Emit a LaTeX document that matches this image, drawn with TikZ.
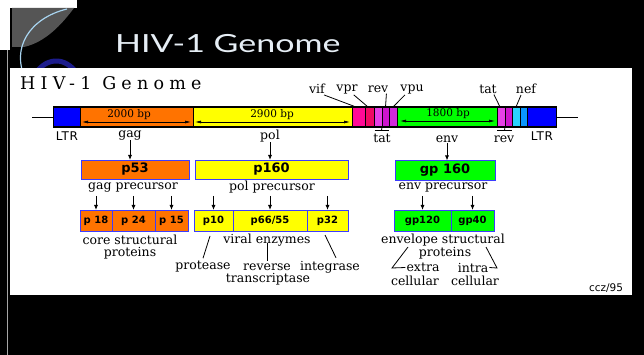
\documentclass[tikz,border=0pt]{standalone}
\usepackage{fontspec}
\setmainfont{DejaVu Serif}
\newfontfamily\titlefont[FakeStretch=1.36]{Lato}
\newfontfamily\headfont[LetterSpace=30]{DejaVu Serif}
\newfontfamily\boxfont{DejaVu Sans}
\newfontfamily\ltrfont[LetterSpace=6]{DejaVu Sans}
\usetikzlibrary{arrows.meta}
\definecolor{ora}{HTML}{FF7300}
\definecolor{yel}{HTML}{FFFF00}
\definecolor{grn}{HTML}{00FF00}
\definecolor{ltrc}{HTML}{0000FF}
\definecolor{vifc}{HTML}{FF0A96}
\definecolor{vprc}{HTML}{F00A64}
\definecolor{tatc}{HTML}{E640E6}
\definecolor{revc}{HTML}{CC14CC}
\definecolor{vpuc}{HTML}{D22ADC}
\definecolor{nefa}{HTML}{28D2FF}
\definecolor{nefb}{HTML}{0A96FF}
\definecolor{boxb}{HTML}{3C3CFF}
\definecolor{titlec}{HTML}{E6EEF5}
\definecolor{decog}{HTML}{555555}
\definecolor{decol}{HTML}{A8D4F0}
\definecolor{decon}{HTML}{1C1C8C}
\tikzset{
  seg/.style={draw=black, line width=0.5pt, minimum height=20pt, inner sep=0pt, outer sep=0pt},
  pbox/.style={draw=boxb, line width=0.8pt, inner sep=0pt, outer sep=0pt, font=\boxfont\bfseries\fontsize{13}{13}\selectfont},
  sbox/.style={draw=boxb, line width=0.8pt, inner sep=0pt, outer sep=0pt, minimum height=21pt, font=\boxfont\bfseries\fontsize{10}{10}\selectfont},
  lab/.style={inner sep=0pt, font=\fontsize{12.5}{13}\selectfont},
  bplab/.style={inner sep=0pt, font=\fontsize{10.5}{11}\selectfont},
  sans/.style={inner sep=0pt, font=\ltrfont\fontsize{12}{12}\selectfont},
  arr/.style={-{Latex[length=5pt,width=4pt]}, line width=0.8pt},
  dbl/.style={{Latex[length=6pt,width=3pt]}-{Latex[length=6pt,width=3pt]}, line width=0.7pt},
  ln/.style={line width=0.8pt}
}
\begin{document}
\begin{tikzpicture}[x=1pt,y=-1pt]
\useasboundingbox (0,0) rectangle (644,355);
\fill[black] (0,0) rectangle (644,355);
% decoration
\fill[white] (0,0) rectangle (77,8);
\fill[white] (0,0) rectangle (10,50);
\fill[decog] (12,8) -- (74,8) .. controls (62,24) and (46,42) .. (24,47) -- (12,47) -- cycle;
\draw[decol, line width=1.2pt] (67,9) .. controls (30,18) and (10,48) .. (26,80);
\draw[decon, line width=5pt] (30,84) .. controls (40,58) and (62,54) .. (76,72);
\draw[gray!70, line width=1pt] (7,50) -- (7,355);
% title
\node[anchor=base west, inner sep=0pt, text=titlec, font=\titlefont\fontsize{25}{25}\selectfont] (title) at (115,53) {HIV-1 Genome};
% panel
\fill[white] (10,68) rectangle (632,295);
\node[anchor=base west, inner sep=0pt, font=\headfont\fontsize{17.5}{18}\selectfont] (head) at (20,90) {HIV-1 Genome};
% genome bar
\node[seg, fill=ltrc, minimum width=27pt] (ltrL) at (66.5,117) {};
\node[seg, fill=ora, minimum width=113pt] (gag) at (136.5,117) {};
\node[seg, fill=yel, minimum width=159pt] (pol) at (272.5,117) {};
\node[seg, fill=vifc, minimum width=13pt] (vif) at (358.5,117) {};
\node[seg, fill=vprc, minimum width=9pt] (vpr) at (369.5,117) {};
\node[seg, fill=tatc, minimum width=8pt] (tatA) at (378,117) {};
\node[seg, fill=revc, minimum width=7pt] (revA) at (385.5,117) {};
\node[seg, fill=vpuc, minimum width=8pt] (vpu) at (393,117) {};
\node[seg, fill=grn, minimum width=100pt] (env) at (447,117) {};
\node[seg, fill=tatc, minimum width=8pt] (tatB) at (501,117) {};
\node[seg, fill=revc, minimum width=7pt] (revB) at (508.5,117) {};
\node[seg, fill=nefa, minimum width=8pt] (nefA) at (516,117) {};
\node[seg, fill=nefb, minimum width=7pt] (nefB) at (523.5,117) {};
\node[seg, fill=ltrc, minimum width=29pt] (ltrR) at (541.5,117) {};
\draw[line width=1pt] (ltrL.north west) rectangle (ltrR.south east);
\coordinate (endL) at (32,117);
\coordinate (endR) at (578,117);
\draw[ln] (endL) -- (ltrL.west);
\draw[ln] (ltrR.east) -- (endR);
% bp arrows
\draw[dbl] ([xshift=2pt,yshift=-5pt]gag.west) -- ([xshift=-2pt,yshift=-5pt]gag.east);
\draw[dbl] ([xshift=2pt,yshift=-5pt]pol.west) -- ([xshift=-2pt,yshift=-5pt]pol.east);
\draw[dbl] ([xshift=3pt,yshift=-4pt]env.west) -- ([xshift=-2pt,yshift=-4pt]env.east);
\node[bplab] (bp1) at (129,114.5) {2000 bp};
\node[bplab] (bp2) at (272,114.5) {2900 bp};
\node[bplab] (bp3) at (448,114) {1800 bp};
% top labels
\node[lab] (lvif) at (317,89) {vif};
\node[lab] (lvpr) at (347,89) {vpr};
\node[lab] (lrev) at (378,89) {rev};
\node[lab] (lvpu) at (412,89) {vpu};
\node[lab] (ltat) at (488,89) {tat};
\node[lab] (lnef) at (526,89) {nef};
\draw[ln] ([xshift=-1pt,yshift=-1pt]lvif.south east) -- ([xshift=-2.5pt]vif.north);
\draw[ln] ([xshift=-4pt,yshift=-1pt]lvpr.south east) -- ([xshift=-1.5pt]vpr.north);
\draw[ln] ([xshift=-2pt,yshift=-1pt]lrev.south east) -- (revA.north);
\draw[ln] ([xshift=-7pt,yshift=-1pt]lvpu.south) -- (vpu.north);
\draw[ln] ([xshift=-3pt,yshift=-1pt]ltat.south east) -- ([xshift=-1pt]tatB.north);
\draw[ln] ([xshift=-5pt,yshift=-1pt]lnef.south) -- (nefA.north);
% bottom labels of bar
\node[sans] (lltrL) at (67,136) {LTR};
\node[sans] (lltrR) at (542,136) {LTR};
\coordinate (brA) at (381.5,130.5);
\coordinate (brB) at (504.5,130.5);
\draw[ln] (tatA.south east) -- (brA);
\draw[ln] ([xshift=-7pt]brA) -- ([xshift=7pt]brA);
\draw[ln] (tatB.south east) -- (brB);
\draw[ln] ([xshift=-7.5pt]brB) -- ([xshift=7.5pt]brB);
\node[lab] (ltat2) at (382,138.5) {tat};
\node[lab] (lrev2) at (504,139) {rev};
\node[lab] (lgag) at (130,135.5) {gag};
\node[lab] (lpol) at (270,136) {pol};
\node[lab] (lenv) at (447,139.5) {env};
% precursors
\node[pbox, fill=ora, minimum width=108pt, minimum height=19pt] (p53) at (135,169.5) {p53};
\node[pbox, fill=yel, minimum width=153pt, minimum height=19pt] (p160) at (271.5,169.5) {p160};
\node[pbox, fill=grn, minimum width=100pt, minimum height=20pt] (gp160) at (445,170.5) {gp 160};
\draw[arr] (lgag.south) -- (lgag.south |- p53.north);
\draw[arr] (lpol.south) -- (lpol.south |- p160.north);
\draw[arr] (lenv.south) -- (lenv.south |- gp160.north);
\node[lab] (pgag) at (133,187.5) {gag precursor};
\node[lab] (ppol) at (272,187.5) {pol precursor};
\node[lab] (penv) at (443,187.5) {env precursor};
% proteins
\node[sbox, fill=ora, minimum width=32pt] (p18) at (96,220.5) {p 18};
\node[sbox, fill=ora, minimum width=43pt] (p24) at (133.5,220.5) {p 24};
\node[sbox, fill=ora, minimum width=33pt] (p15) at (171.5,220.5) {p 15};
\node[sbox, fill=yel, minimum width=39pt] (p10) at (213.5,220.5) {p10};
\node[sbox, fill=yel, minimum width=74pt] (p66) at (270,220.5) {p66/55};
\node[sbox, fill=yel, minimum width=41pt] (p32) at (327.5,220.5) {p32};
\node[sbox, fill=grn, minimum width=57pt] (gp120) at (422.5,220.5) {gp120};
\node[sbox, fill=grn, minimum width=43pt] (gp40) at (472.5,220.5) {gp40};
\foreach \b in {p18,p24,p15,p10,p66,p32,gp120,gp40}
  \draw[arr] ([yshift=14pt]\b.north) -- (\b.north);
% bottom texts
\node[lab] (core1) at (130,240) {core structural};
\node[lab] (core2) at (130,253) {proteins};
\node[lab] (viral) at (267,240) {viral enzymes};
\node[lab] (prot) at (203,267) {protease};
\node[lab] (rev3) at (267,267) {reverse};
\node[lab] (trans) at (268,279.5) {transcriptase};
\node[lab] (integ) at (330,267) {integrase};
\draw[ln] ([xshift=-3.5pt,yshift=-5pt]p10.south) -- ([xshift=0pt,yshift=3pt]prot.north);
\draw[ln] ([yshift=3pt]viral.south) -- ([yshift=2pt]rev3.north);
\draw[ln] ([xshift=-2.5pt,yshift=-4pt]p32.south) -- ([xshift=6pt,yshift=3pt]integ.north);
\node[lab] (envs1) at (443,240) {envelope structural};
\node[lab] (envs2) at (445,253) {proteins};
\node[lab] (extra) at (423,267.5) {extra};
\node[lab] (cell1) at (415,281) {cellular};
\node[lab] (intra) at (473,267.5) {intra};
\node[lab] (cell2) at (475,281) {cellular};
\coordinate (bkL) at (392,268);
\coordinate (bkR) at (497,268);
\draw[ln] (408,247) -- (bkL) -- ([xshift=-1pt]extra.west);
\draw[ln] (486,247) -- (bkR) -- ([xshift=1pt]intra.east);
\node[inner sep=0pt, font=\boxfont\fontsize{10.5}{10.5}\selectfont] (sig) at (606,288) {ccz/95};
\end{tikzpicture}
\end{document}
